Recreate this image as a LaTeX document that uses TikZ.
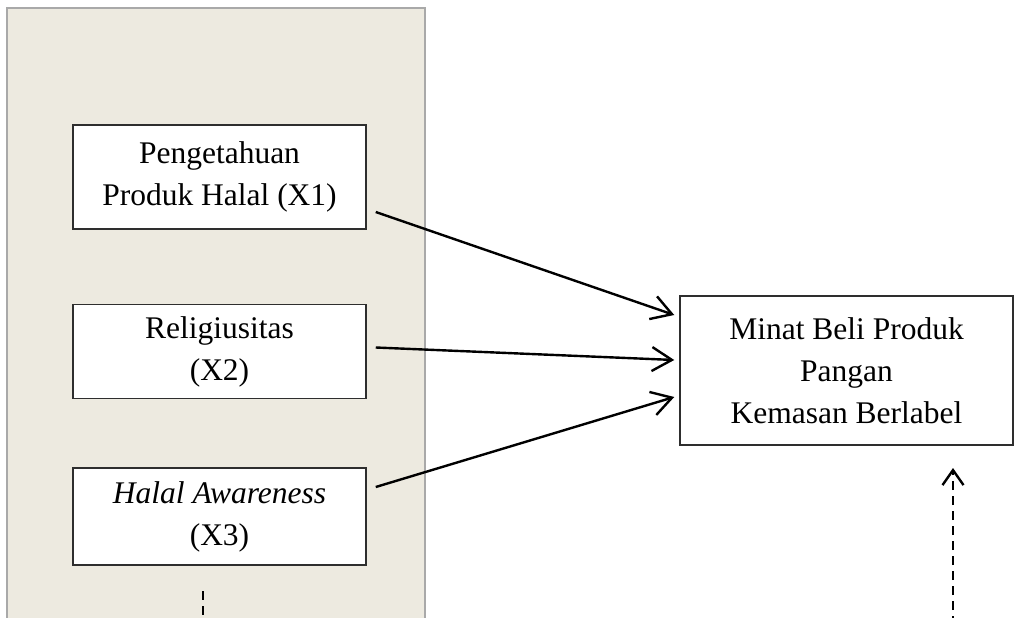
\documentclass[tikz,border=0pt]{standalone}
\usepackage{fontspec}
\setmainfont{Liberation Serif}
\usetikzlibrary{positioning,arrows.meta}
\definecolor{latar}{HTML}{EDEAE0}
\definecolor{garis}{HTML}{A9A9A9}
\definecolor{tepi}{HTML}{2E2E2E}

\begin{document}
\begin{tikzpicture}[x=1pt,y=-1pt,
      var/.style={draw=tepi,fill=white,line width=1.5pt,minimum width=293pt,
                  align=center,inner sep=0pt,font=\fontsize{31.5}{42}\selectfont},
      dep/.style={var,minimum width=333pt,minimum height=149pt},
      fl/.style={-{Straight Barb[length=20pt,width=24pt,line width=2.4pt]},line width=2.4pt,black},
      dl/.style={line width=2.4pt,black,dash pattern=on 9pt off 6pt},
      node distance=74pt and 0pt]
    \clip (0,0) rectangle (1014,618);
    \draw[fill=latar,draw=garis,line width=1.2pt] (7,8) rectangle (425,650);
    \node[var,minimum height=104pt] (x1) at (219.5,177) {Pengetahuan\\Produk Halal (X1)};
    \node[var,minimum height=94pt,below=of x1] (x2) {Religiusitas\\(X2)};
    \node[var,minimum height=97pt,below=68pt of x2] (x3) {\textit{Halal Awareness}\\(X3)};
    \node[dep] (y) at (846.5,370.5) {Minat Beli Produk\\Pangan\\Kemasan Berlabel};
    \draw[fl] ([shift={(9,35)}]x1.east) -- ([shift={(-5,-55.5)}]y.west);
    \draw[fl] ([shift={(9,-4)}]x2.east) -- ([shift={(-5,-10.5)}]y.west);
    \draw[fl] ([shift={(9,-29.5)}]x3.east) -- ([shift={(-5,26.5)}]y.west);
    % garis putus-putus ke bawah
    \coordinate (d1a) at (203,591);
    \coordinate (d1b) at (203,640);
    \draw[dl] (d1a) -- (d1b);
    \coordinate (d2a) at (953,640);
    \coordinate (d2b) at (953,468);
    \draw[dl,-{Straight Barb[length=15pt,width=21pt,line width=2.4pt]}] (d2a) -- (d2b);
  \end{tikzpicture}
\end{document}
